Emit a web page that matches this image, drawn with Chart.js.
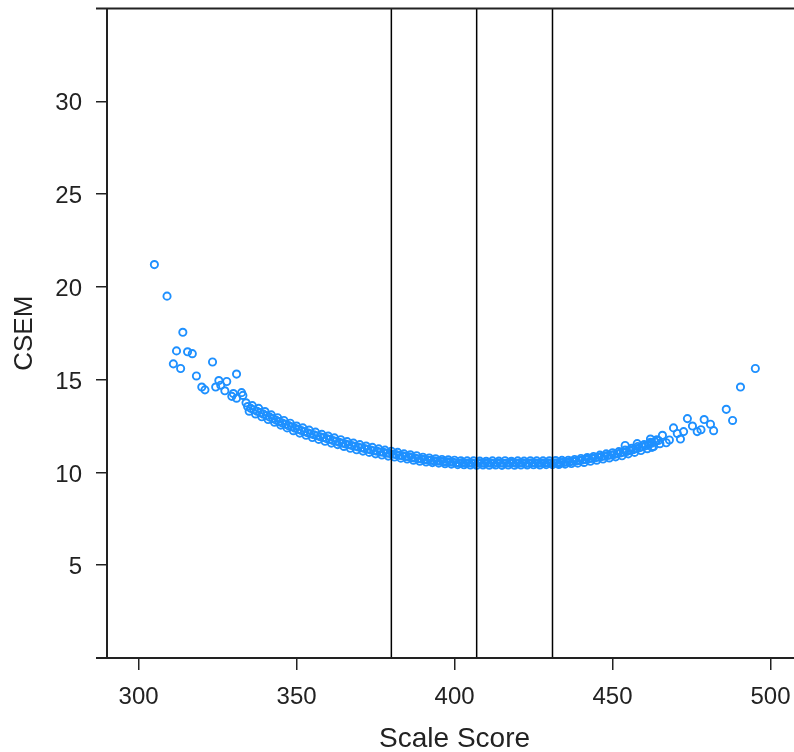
<!DOCTYPE html>
<html>
<head>
<meta charset="utf-8">
<script src="https://cdn.jsdelivr.net/npm/chart.js@4.4.0/dist/chart.umd.min.js"></script>
<style>
  html, body { margin: 0; padding: 0; background: #fff; overflow: hidden; }
  /* the reference is cropped on the right, so the plot runs past the window edge */
  #wrap { width: 794px; height: 752px; overflow: hidden; }
</style>
</head>
<body>
<div id="wrap"><canvas id="csem_chart" width="808" height="752"></canvas></div>
<script>
// scale score / CSEM pairs
const lowTailScore = [305, 309, 311, 312, 313.3, 314, 315.5, 317, 318.3, 320, 321, 323.4, 324.4, 325.4, 326, 327.3, 327.9, 329.5, 330, 331, 331, 332.6, 333];
const lowTailCsem = [21.2, 19.5, 15.85, 16.55, 15.6, 17.55, 16.5, 16.4, 15.2, 14.6, 14.45, 15.95, 14.6, 14.95, 14.7, 14.4, 14.9, 14.1, 14.25, 15.3, 14.0, 14.3, 14.15];

const bandScore = [
    334, 335, 336, 337, 338, 339, 340, 341, 342, 343, 344, 345, 346, 347, 348, 349,
    350, 351, 352, 353, 354, 355, 356, 357, 358, 359, 360, 361, 362, 363, 364, 365, 366, 367, 368, 369,
    370, 371, 372, 373, 374, 375, 376, 377, 378, 379, 380, 381, 382, 383, 384, 385, 386, 387, 388, 389,
    390, 391, 392, 393, 394, 395, 396, 397, 398, 399, 400, 401, 402, 403, 404, 405, 406, 407, 408, 409,
    410, 411, 412, 413, 414, 415, 416, 417, 418, 419, 420, 421, 422, 423, 424, 425, 426, 427, 428, 429,
    430, 431, 432, 433, 434, 435, 436, 437, 438, 439, 440, 441, 442, 443, 444, 445, 446, 447, 448, 449,
    450, 451, 452, 453, 454, 455, 456, 457, 458, 459, 460, 461, 462, 463, 464, 465
];
const bandCsem = [
    13.75, 13.30, 13.60, 13.15, 13.45, 13.00, 13.28, 12.85, 13.10, 12.70, 12.95, 12.55, 12.80, 12.40, 12.65, 12.25,
    12.50, 12.12, 12.40, 12.00, 12.28, 11.88, 12.17, 11.78, 12.05, 11.68, 11.96, 11.58, 11.86, 11.50, 11.76, 11.40, 11.66, 11.30, 11.58, 11.22,
    11.50, 11.15, 11.42, 11.08, 11.35, 11.00, 11.27, 10.94, 11.20, 10.88, 11.14, 10.83, 11.08, 10.77, 11.00, 10.72, 10.95, 10.66, 10.90, 10.60,
    10.82, 10.56, 10.78, 10.53, 10.74, 10.50, 10.70, 10.47, 10.68, 10.45, 10.66, 10.42, 10.63, 10.41, 10.62, 10.40, 10.62, 10.39, 10.61, 10.40,
    10.60, 10.39, 10.62, 10.40, 10.61, 10.38, 10.63, 10.40, 10.60, 10.39, 10.62, 10.40, 10.61, 10.40, 10.63, 10.41, 10.62, 10.40, 10.62, 10.42,
    10.63, 10.42, 10.64, 10.43, 10.65, 10.45, 10.66, 10.48, 10.70, 10.50, 10.75, 10.54, 10.80, 10.60, 10.86, 10.66, 10.93, 10.72, 11.00, 10.78,
    11.06, 10.84, 11.12, 10.90, 11.20, 11.00, 11.30, 11.08, 11.40, 11.18, 11.50, 11.28, 11.62, 11.40, 11.76, 11.55
];

const bandMidScore = [
    334.5, 335.5, 336.5, 337.5, 338.5, 339.5, 340.5, 341.5, 342.5, 343.5, 344.5, 345.5, 346.5, 347.5, 348.5, 349.5,
    350.5, 351.5, 352.5, 353.5, 354.5, 355.5, 356.5, 357.5, 358.5, 359.5, 360.5, 361.5, 362.5, 363.5, 364.5, 365.5, 366.5, 367.5, 368.5, 369.5,
    370.5, 371.5, 372.5, 373.5, 374.5, 375.5, 376.5, 377.5, 378.5, 379.5, 380.5, 381.5, 382.5, 383.5, 384.5, 385.5, 386.5, 387.5, 388.5, 389.5,
    390.5, 391.5, 392.5, 393.5, 394.5, 395.5, 396.5, 397.5, 398.5, 399.5, 400.5, 401.5, 402.5, 403.5, 404.5, 405.5, 406.5, 407.5, 408.5, 409.5,
    410.5, 411.5, 412.5, 413.5, 414.5, 415.5, 416.5, 417.5, 418.5, 419.5, 420.5, 421.5, 422.5, 423.5, 424.5, 425.5, 426.5, 427.5, 428.5, 429.5,
    430.5, 431.5, 432.5, 433.5, 434.5, 435.5, 436.5, 437.5, 438.5, 439.5, 440.5, 441.5, 442.5, 443.5, 444.5, 445.5, 446.5, 447.5, 448.5, 449.5,
    450.5, 451.5, 452.5, 453.5, 454.5, 455.5, 456.5, 457.5, 458.5, 459.5, 460.5, 461.5, 462.5, 463.5, 464.5
];
const bandMidCsem = [
    13.55, 13.45, 13.38, 13.30, 13.22, 13.14, 13.06, 12.98, 12.90, 12.82, 12.74, 12.66, 12.60, 12.52, 12.46, 12.38,
    12.32, 12.26, 12.20, 12.14, 12.08, 12.03, 11.98, 11.92, 11.88, 11.82, 11.78, 11.72, 11.68, 11.62, 11.58, 11.53, 11.49, 11.45, 11.41, 11.37,
    11.33, 11.29, 11.25, 11.21, 11.17, 11.14, 11.10, 11.08, 11.04, 11.02, 10.98, 10.96, 10.92, 10.90, 10.86, 10.84, 10.80, 10.78, 10.74, 10.72,
    10.69, 10.67, 10.65, 10.63, 10.61, 10.60, 10.58, 10.57, 10.56, 10.55, 10.52, 10.50, 10.53, 10.49, 10.51, 10.50, 10.48, 10.52, 10.50, 10.49,
    10.51, 10.50, 10.48, 10.52, 10.50, 10.49, 10.51, 10.50, 10.53, 10.49, 10.50, 10.51, 10.48, 10.50, 10.52, 10.50, 10.49, 10.51, 10.50, 10.52,
    10.50, 10.51, 10.52, 10.53, 10.54, 10.56, 10.58, 10.60, 10.62, 10.64, 10.67, 10.70, 10.73, 10.76, 10.79, 10.82, 10.85, 10.88, 10.91, 10.94,
    10.97, 11.01, 11.05, 11.09, 11.13, 11.18, 11.22, 11.28, 11.33, 11.38, 11.44, 11.51, 11.58, 11.65, 11.72
];

const highTailScore = [454, 457.8, 462, 462.5, 465.8, 467, 468, 469.3, 470.5, 471.5, 472.5, 473.7, 475.3, 476.8, 478, 479, 481, 482, 486, 488, 490.5, 495.2];
const highTailCsem = [11.45, 11.55, 11.8, 11.35, 12.0, 11.6, 11.75, 12.4, 12.1, 11.8, 12.2, 12.9, 12.5, 12.2, 12.3, 12.85, 12.6, 12.25, 13.4, 12.8, 14.6, 15.6];

const cutScores = [380, 407, 431];
const xTicks = [300, 350, 400, 450, 500];
const yTicks = [5, 10, 15, 20, 25, 30];
const xRange = [290, 510];
const yRange = [0, 35];

const scaleScore = lowTailScore.concat(bandScore, bandMidScore, highTailScore);
const csem = lowTailCsem.concat(bandCsem, bandMidCsem, highTailCsem);

const textColor = '#222';
const family = 'Liberation Sans, Arial, sans-serif';

const datasets = cutScores.map(v => ({
    type: 'line',
    data: [{ x: v, y: yRange[0] }, { x: v, y: yRange[1] }],
    borderColor: '#000',
    borderWidth: 1.5,
    pointRadius: 0,
    order: 0
}));
datasets.push({
    type: 'scatter',
    data: scaleScore.map((s, i) => ({ x: s, y: csem[i] })),
    pointStyle: 'circle',
    pointRadius: 3.6,
    pointBorderWidth: 1.9,
    pointBorderColor: '#1E90FF',
    pointBackgroundColor: 'rgba(0,0,0,0)',
    order: 1
});

// top and bottom frame lines run a little past the y axis, like the R plot
const frameLines = {
    id: 'frameLines',
    afterDraw(chart) {
        const { ctx, chartArea } = chart;
        ctx.save();
        ctx.strokeStyle = '#222';
        ctx.lineWidth = 2;
        ctx.beginPath();
        ctx.moveTo(chartArea.left - 11, chartArea.top);
        ctx.lineTo(chart.width, chartArea.top);
        ctx.moveTo(chartArea.left - 11, chartArea.bottom);
        ctx.lineTo(chart.width, chartArea.bottom);
        ctx.stroke();
        ctx.restore();
    }
};

const ctx = document.getElementById('csem_chart').getContext('2d');
const csem_chart = new Chart(ctx, {
    data: { datasets: datasets },
    options: {
        responsive: false,
        animation: false,
        devicePixelRatio: 1,
        layout: { padding: { top: 8.5, right: 0, left: 0, bottom: 0 } },
        plugins: { legend: { display: false }, tooltip: { enabled: false } },
        scales: {
            x: {
                type: 'linear',
                min: xRange[0],
                max: xRange[1],
                afterBuildTicks: s => { s.ticks = xTicks.map(v => ({ value: v })); },
                afterFit: s => { s.height = 94; s.paddingLeft = 0; s.paddingRight = 0; },
                grid: { drawOnChartArea: false, drawTicks: true, tickLength: 12, color: '#222', lineWidth: 1.5 },
                border: { display: true, color: '#222', width: 2 },
                ticks: { color: textColor, font: { family: family, size: 24 }, padding: 13, maxRotation: 0 },
                title: { display: true, text: 'Scale Score', color: textColor, font: { family: family, size: 28, lineHeight: 0.9 }, padding: { top: 0, bottom: 0 } }
            },
            y: {
                type: 'linear',
                min: yRange[0],
                max: yRange[1],
                afterBuildTicks: s => { s.ticks = yTicks.map(v => ({ value: v })); },
                afterFit: s => { s.width = 107; s.paddingTop = 0; s.paddingBottom = 0; },
                grid: { drawOnChartArea: false, drawTicks: true, tickLength: 11, color: '#222', lineWidth: 1.5 },
                border: { display: true, color: '#222', width: 2 },
                ticks: { color: textColor, font: { family: family, size: 24 }, padding: 14, labelOffset: 2.5 },
                title: { display: true, text: 'CSEM', color: textColor, font: { family: family, size: 26 }, padding: { top: 9.5, bottom: 0 } }
            }
        }
    },
    plugins: [frameLines]
});
</script>
</body>
</html>
